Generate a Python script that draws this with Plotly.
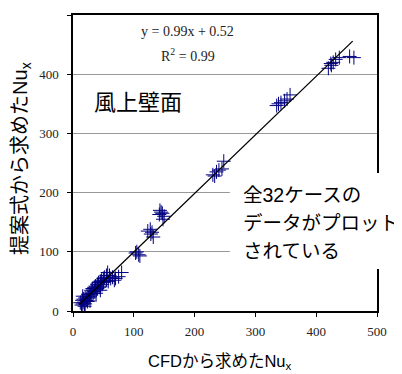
import plotly.graph_objects as go

# Data: CFD Nu_x (x) vs proposed formula Nu_x (y)
cfd_nu = [420, 425, 428, 432, 438, 455, 462, 424,
          335, 338, 342, 348, 352, 357,
          230, 233, 236, 240, 245, 248,
          142, 145, 147, 150, 148, 143,
          123, 127, 130, 128, 132,
          103, 105, 108, 110,
          12, 14, 15, 16, 17, 18, 19, 20, 22, 23, 24, 25, 26, 28, 28, 30, 30, 32, 33, 35,
          35, 37, 38, 40, 40, 42, 43, 45, 45, 47, 48, 50, 50, 52, 55, 57, 58, 60, 62, 65,
          68, 70, 75, 80, 55, 45, 38, 28, 20, 16]
prop_nu = [410, 415, 420, 425, 428, 430, 428, 418,
           347, 350, 352, 355, 358, 365,
           230, 228, 235, 238, 240, 253,
           163, 167, 165, 160, 155, 170,
           135, 138, 133, 130, 125,
           98, 100, 95, 93,
           14, 10, 18, 12, 20, 15, 8, 22, 18, 25, 16, 28, 22, 30, 24, 35, 27, 38, 30, 40,
           33, 42, 36, 45, 38, 48, 40, 50, 35, 52, 45, 55, 48, 57, 52, 65, 50, 60, 55, 57,
           52, 55, 58, 65, 60, 42, 30, 17, 12, 25]

slope = 0.99
intercept = 0.52
fit_x = [10, 460]
fit_y = [slope * v + intercept for v in fit_x]

tick_vals = [0, 100, 200, 300, 400, 500]
note_lines = ["全32ケースの", "データがプロット", "されている"]

jp = "Liberation Sans, Noto Sans CJK JP"
serif = "Liberation Serif, Times New Roman, serif"


def note(x, y, text, font, **kw):
    d = dict(x=x, y=y, xref="paper", yref="paper", showarrow=False, text=text,
             font=font, xanchor="center", yanchor="middle")
    d.update(kw)
    return d


fig = go.Figure()
fig.add_trace(go.Scatter(x=cfd_nu, y=prop_nu, mode="markers",
                         marker=dict(symbol="cross-thin", size=10,
                                     line=dict(color="#000080", width=1)),
                         showlegend=False))
fig.add_trace(go.Scatter(x=fit_x, y=fit_y, mode="lines",
                         line=dict(color="black", width=1.3), showlegend=False))

annotations = [
    note(0.378, 0.943, "y = 0.99x + 0.52", dict(family=serif, size=14, color="#222")),
    note(0.378, 0.865, "R<sup>2</sup> = 0.99", dict(family=serif, size=14, color="#222")),
    note(0.214, 0.703, "風上壁面", dict(family=jp, size=22, color="black")),
    note(-0.168, 0.517, "提案式から求めたNu<sub>x</sub>",
         dict(family=jp, size=20, color="black"), textangle=-90),
    note(0.484, -0.172, "CFDから求めたNu<sub>x</sub>",
         dict(family=jp, size=16.5, color="black")),
]
for line, yy in zip(note_lines, [0.392, 0.297, 0.203]):
    annotations.append(note(0.553, yy, line, dict(family=jp, size=19.5, color="black"),
                            xanchor="left"))

fig.update_layout(
    width=394, height=366,
    margin=dict(l=65, r=25, t=7, b=63, autoexpand=False),
    plot_bgcolor="white", paper_bgcolor="white",
    xaxis=dict(range=[0, 500], tickvals=tick_vals, automargin=False,
               showgrid=False, zeroline=False, showline=True, mirror=True,
               linecolor="black", linewidth=1.5, ticks="outside", ticklen=4,
               tickcolor="black", tickfont=dict(family=serif, size=13, color="#222"),
               ticklabelstandoff=4),
    yaxis=dict(range=[0, 500], tickvals=tick_vals, automargin=False,
               showgrid=True, gridcolor="#999999", gridwidth=1, zeroline=False,
               showline=True, mirror=True,
               linecolor="black", linewidth=1.5, ticks="outside", ticklen=4,
               tickcolor="black", tickfont=dict(family=serif, size=13, color="#222"),
               ticklabelstandoff=6),
    shapes=[dict(type="rect", xref="paper", yref="paper", x0=0.516, x1=1.1,
                 y0=0.142, y1=0.466, fillcolor="white", line=dict(width=0),
                 layer="above")],
    annotations=annotations,
)

fig.write_html("out.html")
